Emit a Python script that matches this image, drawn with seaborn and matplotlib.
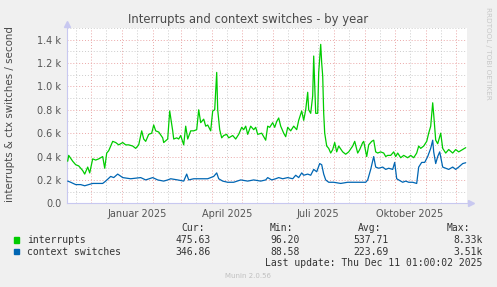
import numpy as np
import pandas as pd
import matplotlib
matplotlib.use('Agg')
import matplotlib.pyplot as plt
import matplotlib.dates as mdates
from matplotlib.patches import Rectangle
from matplotlib.ticker import MultipleLocator, FuncFormatter
import seaborn as sns

# Zeitachse: Tage seit Startdatum
START = pd.Timestamp('2024-11-07')
END = pd.Timestamp('2025-12-12')

irq_days = [1, 2, 6, 9, 12, 16, 18, 21, 23, 26, 29, 32, 36, 38, 40, 42, 46, 49, 52, 56,
            59, 62, 66, 69, 72, 75, 77, 79, 82, 85, 87, 89, 92, 96, 97, 101, 103, 106, 107, 110,
            112, 114, 117, 119, 121, 124, 127, 130, 132, 134, 137, 139, 141, 144, 146, 148, 150, 151, 153, 155,
            157, 160, 162, 166, 169, 172, 175, 177, 179, 181, 184, 187, 189, 191, 195, 197, 199, 201, 203, 206,
            208, 210, 212, 214, 217, 219, 221, 224, 227, 230, 232, 235, 237, 239, 241, 242, 244, 246, 247, 249,
            251, 252, 254, 255, 256, 257, 258, 260, 262, 264, 266, 268, 270, 272, 276, 279, 282, 286, 288, 291,
            293, 296, 297, 300, 302, 305, 307, 309, 311, 314, 317, 319, 321, 324, 327, 329, 331, 334, 337, 341,
            344, 347, 350, 352, 354, 357, 360, 362, 364, 366, 367, 369, 371, 374, 376, 379, 382, 386, 389, 392,
            396, 399]
irq_vals = [360, 410, 360, 330, 320, 280, 250, 310, 260, 380, 370, 380, 400, 300, 430, 450, 530, 520, 500, 520,
            500, 500, 490, 470, 500, 620, 550, 530, 590, 600, 670, 620, 610, 560, 520, 550, 790, 620, 550, 560,
            550, 580, 500, 660, 550, 620, 620, 630, 800, 690, 720, 660, 670, 620, 790, 800, 1120, 800, 630, 560,
            580, 590, 560, 580, 550, 590, 650, 630, 660, 590, 660, 630, 650, 590, 600, 570, 540, 660, 650, 690,
            650, 700, 730, 660, 600, 570, 650, 620, 660, 630, 710, 790, 710, 800, 950, 800, 770, 920, 1260, 770,
            770, 1120, 1360, 1200, 1090, 770, 600, 490, 470, 430, 460, 520, 440, 490, 440, 420, 440, 490, 530, 430,
            460, 520, 530, 400, 500, 530, 540, 440, 430, 440, 430, 400, 410, 410, 440, 400, 430, 390, 410, 390,
            410, 390, 430, 490, 470, 490, 530, 600, 660, 860, 760, 540, 510, 600, 470, 430, 460, 430, 460, 440,
            460, 476]

ctx_days = [1, 4, 9, 14, 18, 22, 26, 31, 36, 39, 44, 47, 51, 56, 64, 74, 79, 86, 91, 97,
            101, 104, 111, 117, 120, 122, 127, 134, 141, 147, 150, 152, 156, 161, 167, 174, 181, 187, 194, 199,
            201, 205, 209, 212, 216, 221, 226, 229, 232, 235, 237, 241, 244, 247, 250, 253, 255, 257, 259, 262,
            267, 274, 281, 287, 294, 299, 301, 304, 307, 309, 312, 316, 319, 322, 326, 328, 330, 332, 336, 339,
            342, 346, 350, 352, 355, 358, 361, 364, 366, 367, 369, 371, 373, 376, 379, 382, 386, 389, 392, 396,
            399]
ctx_vals = [190, 180, 160, 160, 150, 160, 170, 170, 170, 190, 230, 220, 250, 220, 210, 220, 200, 220, 200, 190,
            200, 210, 200, 190, 250, 200, 210, 210, 210, 230, 260, 210, 190, 180, 180, 200, 190, 200, 190, 200,
            220, 200, 210, 220, 210, 220, 210, 240, 220, 260, 240, 250, 240, 290, 270, 340, 330, 250, 200, 180,
            180, 170, 180, 180, 180, 180, 200, 290, 400, 310, 300, 310, 290, 300, 290, 350, 210, 200, 180, 190,
            180, 180, 170, 310, 350, 350, 400, 470, 540, 440, 340, 400, 440, 310, 300, 290, 310, 290, 310, 340,
            347]

series_names = ['interrupts', 'context switches']
series_colors = ['#00CC00', '#0066B3']
cur_vals = ['475.63', '346.86']
min_vals = ['96.20', '88.58']
avg_vals = ['537.71', '223.69']
max_vals = ['8.33k', '3.51k']

label_months = {1: 'Januar 2025', 4: 'April 2025', 7: 'Juli 2025', 10: 'Oktober 2025'}

df = pd.concat([
    pd.DataFrame({'date': START + pd.to_timedelta(irq_days, unit='D'), 'value': irq_vals,
                  'series': series_names[0]}),
    pd.DataFrame({'date': START + pd.to_timedelta(ctx_days, unit='D'), 'value': ctx_vals,
                  'series': series_names[1]}),
])

sns.set_style('white')
plt.rcParams['font.family'] = ['DejaVu Sans']

W, H = 497, 287
fig = plt.figure(figsize=(W / 100, H / 100), dpi=100, facecolor='#F0F0F0')


def fx(x):
    return x / W


def fy(y):
    return 1 - y / H


ax = fig.add_axes([fx(66.7), fy(203.3), (466.7 - 66.7) / W, (203.3 - 28) / H])
ax.set_facecolor('white')

sns.lineplot(data=df, x='date', y='value', hue='series', palette=series_colors,
             hue_order=series_names, lw=0.9, ax=ax, legend=False, zorder=3)

ax.set_xlim(START, END)
ax.set_ylim(0, 1500)
ax.set_xlabel('')
ax.set_ylabel('')

# Gitter
ax.xaxis.set_major_locator(mdates.MonthLocator(bymonthday=1))
ax.xaxis.set_minor_locator(mdates.MonthLocator(bymonthday=16))
ax.xaxis.set_major_formatter(FuncFormatter(lambda v, p: ''))
ax.xaxis.set_minor_formatter(FuncFormatter(
    lambda v, p: label_months.get(mdates.num2date(v).month, '')))
ax.yaxis.set_major_locator(MultipleLocator(200))
ax.yaxis.set_minor_locator(MultipleLocator(100))
ax.yaxis.set_major_formatter(FuncFormatter(
    lambda v, p: '0.0' if v == 0 else f'{v / 1000:.1f} k'))

ax.grid(which='major', color='#EBA8A8', ls=(0, (1, 2)), lw=0.7)
ax.grid(which='minor', color='#CCCCCC', ls=(0, (1, 2)), lw=0.7)
ax.set_axisbelow(True)

ax.tick_params(axis='both', which='major', length=2, color='#E08080', labelsize=7,
               labelcolor='#555555', pad=2)
ax.tick_params(axis='x', which='minor', length=0, labelsize=7, labelcolor='#555555', pad=4)
ax.tick_params(axis='y', which='minor', length=0)
ax.tick_params(axis='x', which='major', length=2, pad=0)

for s in ['top', 'right']:
    ax.spines[s].set_visible(False)
for s in ['left', 'bottom']:
    ax.spines[s].set_color('#C8C8F0')
    ax.spines[s].set_linewidth(0.8)
ax.plot([0], [1.025], marker='^', ms=4, color='#C8C8F0', transform=ax.transAxes, clip_on=False)
ax.plot([1.01], [0], marker='>', ms=4, color='#C8C8F0', transform=ax.transAxes, clip_on=False)

# Titel und Achsenbeschriftung
fig.text(fx(248), fy(19), 'Interrupts and context switches - by year', ha='center', va='center',
         fontsize=8.4, color='#4A4A4A')
fig.text(fx(10), fy(114), 'interrupts & ctx switches / second', rotation=90, ha='center',
         va='center', fontsize=7.4, color='#4A4A4A')
fig.text(fx(488), fy(53), 'RRDTOOL / TOBI OETIKER', rotation=270, ha='center', va='center',
         fontsize=5.2, color='#C8C8C8')

# Legende
mono = 'DejaVu Sans Mono'
lc = '#333333'
for x, lab in zip([181.7, 270, 358.3, 446.7], ['Cur:', 'Min:', 'Avg:', 'Max:']):
    fig.text(fx(x), fy(228), lab, ha='left', va='center', family=mono, fontsize=7, color=lc)

rows_y = [240, 251.7]
for i, name in enumerate(series_names):
    y = rows_y[i]
    fig.patches.append(Rectangle((fx(14), fy(y + 2.7)), 5.3 / W, 5.3 / H,
                                 transform=fig.transFigure, color=series_colors[i]))
    fig.text(fx(26.7), fy(y), name, ha='left', va='center', family=mono, fontsize=7, color=lc)
    for xr, vals in zip([211, 300, 388.3, 482.7], [cur_vals, min_vals, avg_vals, max_vals]):
        fig.text(fx(xr), fy(y), vals[i], ha='right', va='center', family=mono, fontsize=7, color=lc)

fig.text(fx(482.7), fy(263.3), 'Last update: Thu Dec 11 01:00:02 2025', ha='right', va='center',
         family=mono, fontsize=7, color=lc)
fig.text(fx(248), fy(276), 'Munin 2.0.56', ha='center', va='center', fontsize=5, color='#C0C0C0')

plt.savefig('out.png', dpi=100, facecolor=fig.get_facecolor())
plt.close()
